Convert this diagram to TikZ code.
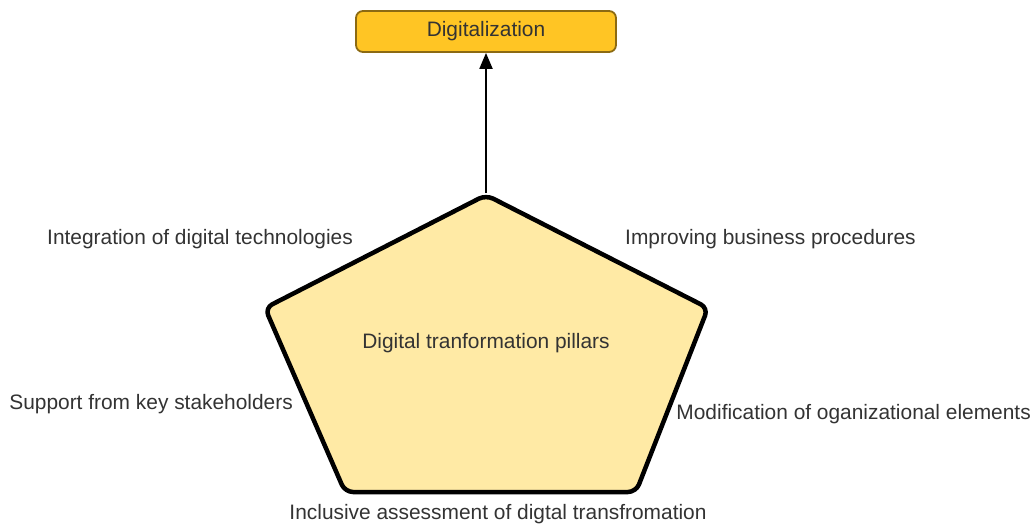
\documentclass[tikz,border=0pt]{standalone}
\usepackage{fontspec}
\setmainfont{Liberation Sans}
\usetikzlibrary{arrows.meta}
\definecolor{boxfill}{HTML}{FFC524}
\definecolor{boxline}{HTML}{8C6A12}
\definecolor{pentfill}{HTML}{FFEAA5}
\definecolor{txt}{HTML}{333333}
\tikzset{
  lbl/.style={font=\fontsize{20.9}{22}\selectfont, text=txt, inner sep=0pt},
  topbox/.style={draw=boxline, fill=boxfill, line width=1.8pt, rounded corners=7pt, minimum width=260pt, minimum height=41pt, font=\fontsize{20.9}{22}\selectfont, text=txt},
  pent/.style={draw=black, fill=pentfill, line width=4.5pt, rounded corners=8pt, line join=round},
  conn/.style={-{Triangle[length=16pt,width=13pt]}, line width=2pt}
}
\begin{document}
\begin{tikzpicture}[x=1pt,y=-1pt]
\useasboundingbox (0,0) rectangle (1035,525);
\draw[pent] (486,195) -- (708,308) -- (636,492) -- (345,492) -- (265,308) -- cycle;
\coordinate (ptop) at (486,193);
\node[topbox] (dig) at (486,31.5) {Digitalization};
\draw[conn] (ptop) -- (dig.south);
\node[lbl] (center) at (486,343.5) {Digital tranformation pillars};
\node[lbl] (l1) at (200,239.5) {Integration of digital technologies};
\node[lbl, anchor=west] (l2) at (625,239.5) {Improving business procedures};
\node[lbl, anchor=east] (l3) at (293,404.5) {Support from key stakeholders};
\node[lbl, anchor=east] (l4) at (1031,414.5) {Modification of oganizational elements};
\node[lbl] (l5) at (498,514.5) {Inclusive assessment of digtal transfromation};
\end{tikzpicture}
\end{document}
